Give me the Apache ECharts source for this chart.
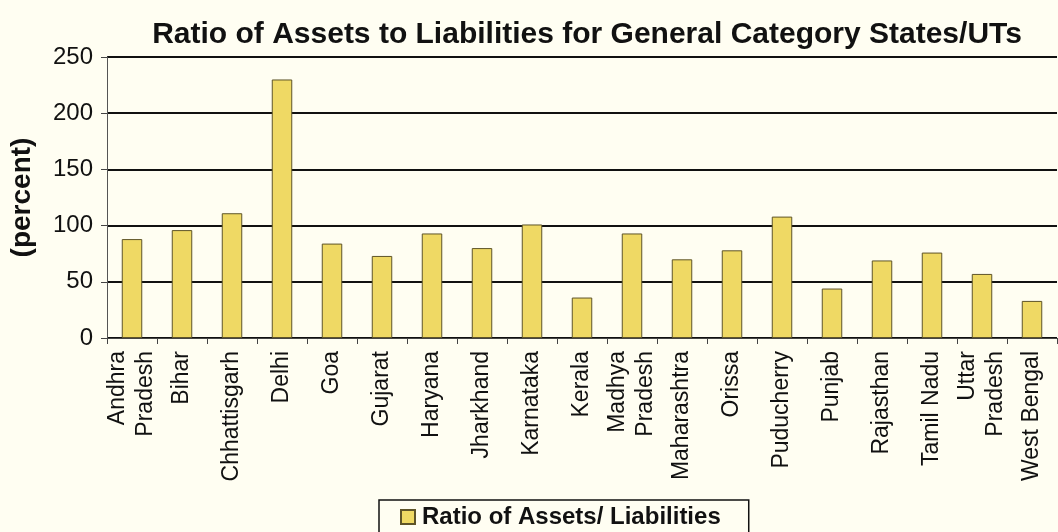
<!DOCTYPE html>
<html><head><meta charset="utf-8">
<script src="https://cdn.jsdelivr.net/npm/echarts@6/dist/echarts.min.js"></script>
<style>html,body{margin:0;padding:0;background:#fffef2}#c{width:1058px;height:532px}</style>
</head><body><div id="c"></div>
<script>
const categories = ["Andhra\nPradesh","Bihar","Chhattisgarh","Delhi","Goa","Gujarat","Haryana","Jharkhand","Karnataka","Kerala","Madhya\nPradesh","Maharashtra","Orissa","Puducherry","Punjab","Rajasthan","Tamil Nadu","Uttar\nPradesh","West Bengal"];
const ratioValues = [88, 96, 111, 230, 84, 73, 93, 80, 101, 36, 93, 70, 78, 108, 44, 69, 76, 57, 33];
const yTicks = [0, 50, 100, 150, 200, 250];
const seriesName = "Ratio of Assets/ Liabilities";

const FF = '"Liberation Sans", Arial, sans-serif';
const chart = echarts.init(document.getElementById('c'));
chart.setOption({
  backgroundColor: '#fffef2',
  animation: false,
  title: {
    text: 'Ratio of Assets to Liabilities for General Category States/UTs',
    left: 582, textAlign: 'center', top: 15,
    textStyle: {fontFamily: FF, fontWeight: 'bold', fontSize: 30, color: '#111'}
  },
  legend: {
    data: [seriesName],
    left: 379, top: 500,
    borderColor: '#111', borderWidth: 1.5, padding: [5, 28, 12, 21],
    itemWidth: 14, itemHeight: 14, itemGap: 8,
    icon: 'rect',
    textStyle: {fontFamily: FF, fontWeight: 'bold', fontSize: 24, color: '#111', padding: [0, 0, 0, 2]}
  },
  grid: {left: 107, right: 1, top: 57, bottom: 194, containLabel: false, outerBoundsMode: 'none'},
  xAxis: {
    type: 'category', data: categories,
    axisLine: {lineStyle: {color: '#444', width: 1}},
    axisTick: {show: true, alignWithLabel: false, length: 6, lineStyle: {color: '#444'}},
    axisLabel: {rotate: 90, interval: 0, fontFamily: FF, fontSize: 23, color: '#111', lineHeight: 28, margin: 13}
  },
  yAxis: {
    type: 'value', min: yTicks[0], max: yTicks[yTicks.length-1], interval: 50,
    name: '(percent)', nameLocation: 'middle', nameGap: 71, nameRotate: 90,
    nameTextStyle: {fontFamily: FF, fontWeight: 'bold', fontSize: 28, color: '#111'},
    axisLine: {show: true, lineStyle: {color: '#555', width: 1}},
    axisTick: {show: true, length: 6, lineStyle: {color: '#444'}},
    axisLabel: {fontFamily: FF, fontSize: 24, color: '#111', margin: 14},
    splitLine: {show: true, lineStyle: {color: '#111', width: 2}}
  },
  series: [{
    name: seriesName, type: 'bar', data: ratioValues, barWidth: '41%',
    itemStyle: {color: '#efd964', borderColor: '#5e5428', borderWidth: 1}
  }]
});
</script></body></html>
